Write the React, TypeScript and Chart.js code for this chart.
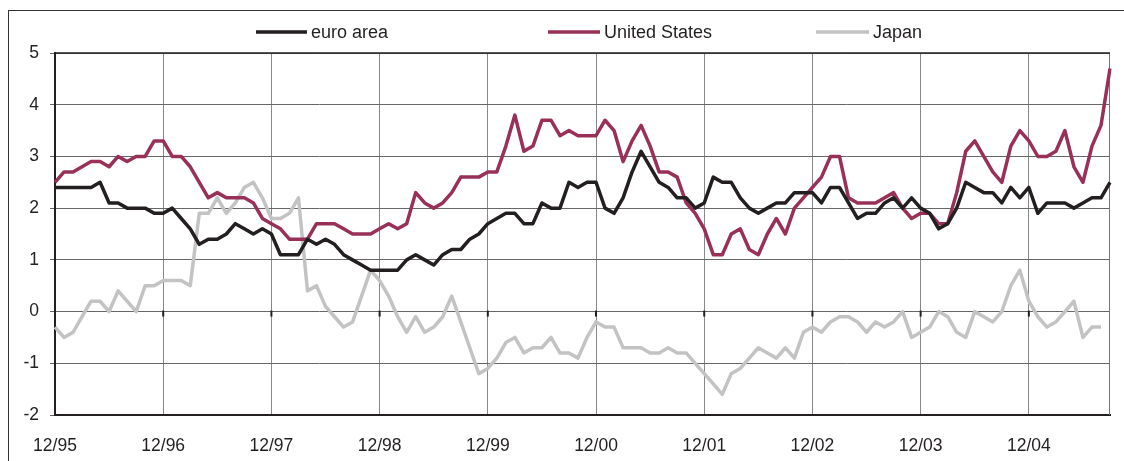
import React, { useEffect, useRef } from "react";
import { Chart, registerables } from "chart.js";

Chart.register(...registerables);

// Monthly categories from 12/95 to 09/05
const categories: string[] = [];
for (let i = 0; i < 118; i++) {
  const m = ((11 + i) % 12) + 1;
  const y = (95 + Math.floor((11 + i) / 12)) % 100;
  categories.push(`${m < 10 ? "0" + m : m}/${y < 10 ? "0" + y : y}`);
}

const yTicks = [-2, -1, 0, 1, 2, 3, 4, 5];

const euroArea: number[] = [
  2.4, 2.4, 2.4, 2.4, 2.4, 2.5, 2.1, 2.1, 2.0, 2.0, 2.0, 1.9,
  1.9, 2.0, 1.8, 1.6, 1.3, 1.4, 1.4, 1.5, 1.7, 1.6, 1.5, 1.6,
  1.5, 1.1, 1.1, 1.1, 1.4, 1.3, 1.4, 1.3, 1.1, 1.0, 0.9, 0.8,
  0.8, 0.8, 0.8, 1.0, 1.1, 1.0, 0.9, 1.1, 1.2, 1.2, 1.4, 1.5,
  1.7, 1.8, 1.9, 1.9, 1.7, 1.7, 2.1, 2.0, 2.0, 2.5, 2.4, 2.5,
  2.5, 2.0, 1.9, 2.2, 2.7, 3.1, 2.8, 2.5, 2.4, 2.2, 2.2, 2.0,
  2.1, 2.6, 2.5, 2.5, 2.2, 2.0, 1.9, 2.0, 2.1, 2.1, 2.3, 2.3,
  2.3, 2.1, 2.4, 2.4, 2.1, 1.8, 1.9, 1.9, 2.1, 2.2, 2.0, 2.2,
  2.0, 1.9, 1.6, 1.7, 2.0, 2.5, 2.4, 2.3, 2.3, 2.1, 2.4, 2.2,
  2.4, 1.9, 2.1, 2.1, 2.1, 2.0, 2.1, 2.2, 2.2, 2.5,
];

const unitedStates: number[] = [
  2.5, 2.7, 2.7, 2.8, 2.9, 2.9, 2.8, 3.0, 2.9, 3.0, 3.0, 3.3,
  3.3, 3.0, 3.0, 2.8, 2.5, 2.2, 2.3, 2.2, 2.2, 2.2, 2.1, 1.8,
  1.7, 1.6, 1.4, 1.4, 1.4, 1.7, 1.7, 1.7, 1.6, 1.5, 1.5, 1.5,
  1.6, 1.7, 1.6, 1.7, 2.3, 2.1, 2.0, 2.1, 2.3, 2.6, 2.6, 2.6,
  2.7, 2.7, 3.2, 3.8, 3.1, 3.2, 3.7, 3.7, 3.4, 3.5, 3.4, 3.4,
  3.4, 3.7, 3.5, 2.9, 3.3, 3.6, 3.2, 2.7, 2.7, 2.6, 2.1, 1.9,
  1.6, 1.1, 1.1, 1.5, 1.6, 1.2, 1.1, 1.5, 1.8, 1.5, 2.0, 2.2,
  2.4, 2.6, 3.0, 3.0, 2.2, 2.1, 2.1, 2.1, 2.2, 2.3, 2.0, 1.8,
  1.9, 1.9, 1.7, 1.7, 2.3, 3.1, 3.3, 3.0, 2.7, 2.5, 3.2, 3.5,
  3.3, 3.0, 3.0, 3.1, 3.5, 2.8, 2.5, 3.2, 3.6, 4.7,
];

const japan: (number | null)[] = [
  -0.3, -0.5, -0.4, -0.1, 0.2, 0.2, 0.0, 0.4, 0.2, 0.0, 0.5, 0.5,
  0.6, 0.6, 0.6, 0.5, 1.9, 1.9, 2.2, 1.9, 2.1, 2.4, 2.5, 2.2,
  1.8, 1.8, 1.9, 2.2, 0.4, 0.5, 0.1, -0.1, -0.3, -0.2, 0.3, 0.8,
  0.6, 0.3, -0.1, -0.4, -0.1, -0.4, -0.3, -0.1, 0.3, -0.2, -0.7, -1.2,
  -1.1, -0.9, -0.6, -0.5, -0.8, -0.7, -0.7, -0.5, -0.8, -0.8, -0.9, -0.5,
  -0.2, -0.3, -0.3, -0.7, -0.7, -0.7, -0.8, -0.8, -0.7, -0.8, -0.8, -1.0,
  -1.2, -1.4, -1.6, -1.2, -1.1, -0.9, -0.7, -0.8, -0.9, -0.7, -0.9, -0.4,
  -0.3, -0.4, -0.2, -0.1, -0.1, -0.2, -0.4, -0.2, -0.3, -0.2, 0.0, -0.5,
  -0.4, -0.3, 0.0, -0.1, -0.4, -0.5, 0.0, -0.1, -0.2, 0.0, 0.5, 0.8,
  0.2, -0.1, -0.3, -0.2, 0.0, 0.2, -0.5, -0.3, -0.3, null,
];

const seriesNames = ["euro area", "United States", "Japan"];
const seriesColors = ["#231f20", "#983058", "#c3c3c3"];

const FONT = "'Liberation Sans', Arial, sans-serif";
const TEXT = "#231f20";

const legendLayout = [
  { x0: 256, x1: 307, tx: 311 },
  { x0: 548, x1: 600, tx: 604 },
  { x0: 816, x1: 869, tx: 873 },
];

const decor = {
  id: "decor",
  beforeDraw(chart: any) {
    const ctx = chart.ctx;
    ctx.save();
    ctx.fillStyle = "#ffffff";
    ctx.fillRect(0, 0, chart.width, chart.height);
    ctx.strokeStyle = "#333333";
    ctx.lineWidth = 1;
    ctx.strokeRect(8.5, 10.5, chart.width + 20, chart.height + 20);
    ctx.restore();
  },
  beforeDatasetsDraw(chart: any) {
    const { ctx, chartArea, scales } = chart;
    ctx.save();
    ctx.strokeStyle = "#777777";
    ctx.lineWidth = 1;
    ctx.beginPath();
    ctx.moveTo(chartArea.right - 0.5, chartArea.top);
    ctx.lineTo(chartArea.right - 0.5, chartArea.bottom);
    ctx.stroke();
    ctx.strokeStyle = "#231f20";
    ctx.lineWidth = 1.5;
    ctx.beginPath();
    ctx.moveTo(chartArea.left, chartArea.top);
    ctx.lineTo(chartArea.right, chartArea.top);
    ctx.stroke();
    const y0 = scales.y.getPixelForValue(0);
    ctx.lineWidth = 2;
    for (let i = 12; i < categories.length; i += 12) {
      const x = scales.x.getPixelForValue(i);
      ctx.beginPath();
      ctx.moveTo(x, y0 - 1);
      ctx.lineTo(x, y0 + 5);
      ctx.stroke();
    }
    ctx.restore();
  },
  afterDraw(chart: any) {
    const ctx = chart.ctx;
    ctx.save();
    ctx.font = `18px ${FONT}`;
    ctx.textBaseline = "middle";
    ctx.textAlign = "left";
    const y = 32;
    chart.data.datasets.forEach((ds: any, i: number) => {
      const l = legendLayout[i];
      ctx.strokeStyle = ds.borderColor;
      ctx.lineWidth = 3.5;
      ctx.beginPath();
      ctx.moveTo(l.x0, y);
      ctx.lineTo(l.x1, y);
      ctx.stroke();
      ctx.fillStyle = TEXT;
      ctx.fillText(ds.label, l.tx, y + 1);
    });
    ctx.restore();
  },
};

export default function App() {
  const ref = useRef<HTMLCanvasElement | null>(null);

  useEffect(() => {
    if (!ref.current) return;
    const seriesData = [euroArea, unitedStates, japan];
    const chart = new Chart(ref.current, {
      type: "line",
      data: {
        labels: categories,
        datasets: seriesData.map((d, i) => ({
          label: seriesNames[i],
          data: d,
          borderColor: seriesColors[i],
          backgroundColor: seriesColors[i],
          borderWidth: 3.5,
          pointRadius: 0,
          pointHoverRadius: 0,
          tension: 0,
          fill: false,
          borderJoinStyle: "round" as const,
          spanGaps: false,
        })),
      },
      options: {
        animation: false,
        responsive: false,
        devicePixelRatio: 1,
        events: [],
        layout: { padding: { top: 53, right: 14, left: 0, bottom: 0 } },
        plugins: {
          legend: { display: false },
          tooltip: { enabled: false },
          title: { display: false },
        },
        scales: {
          x: {
            type: "category",
            offset: false,
            afterFit: (s: any) => {
              s.height = 46;
            },
            grid: {
              color: "#888888",
              lineWidth: 1,
              drawTicks: false,
            },
            border: { display: true, color: TEXT, width: 2 },
            ticks: {
              autoSkip: false,
              maxRotation: 0,
              minRotation: 0,
              padding: 21,
              color: TEXT,
              font: { family: FONT, size: 17.5 },
              callback: (_v: any, index: number) =>
                index % 12 === 0 ? categories[index] : null,
            },
          },
          y: {
            min: yTicks[0],
            max: yTicks[yTicks.length - 1],
            afterFit: (s: any) => {
              s.width = 55;
            },
            grid: {
              color: "#666666",
              lineWidth: 1,
              drawTicks: true,
              tickLength: 5,
            },
            border: { display: true, color: TEXT, width: 2 },
            ticks: {
              stepSize: 1,
              padding: 11,
              color: TEXT,
              font: { family: FONT, size: 17.5 },
            },
          },
        },
      },
      plugins: [decor],
    });
    return () => chart.destroy();
  }, []);

  return (
    <div style={{ position: "absolute", left: 0, top: 0, width: 1124, height: 461, background: "#fff" }}>
      <canvas ref={ref} width={1124} height={461} style={{ display: "block" }} />
    </div>
  );
}
